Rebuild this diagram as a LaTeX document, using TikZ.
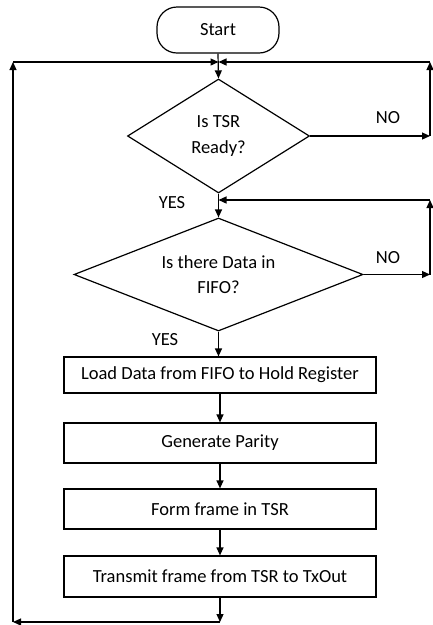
\documentclass[tikz,border=0pt]{standalone}
\usepackage{fontspec}
\setmainfont{Carlito}
\usetikzlibrary{shapes.geometric,arrows.meta}
\begin{document}
\begin{tikzpicture}[x=1pt,y=-1pt,
  every node/.style={font=\fontsize{18.5}{25.5}\selectfont, text=black},
  line/.style={line width=1.2pt, draw=black},
  arr/.style={line, -{Triangle[length=8pt,width=7pt]}},
  startbox/.style={line, rectangle, rounded corners=20pt, minimum width=122pt, minimum height=46pt, inner sep=0pt},
  decision/.style={line, diamond, inner sep=0pt, align=center},
  procbox/.style={line, rectangle, minimum width=312pt, minimum height=40pt, inner sep=0pt},
  lbl/.style={inner sep=0pt}
]
\useasboundingbox (0,0) rectangle (433,625);

\node[startbox] (start) at (218,30) {Start};
\node[decision, aspect=1.6, minimum width=182pt, minimum height=114pt] (d1) at (218.5,136) {Is TSR\\Ready?};
\node[decision, aspect=2.56, minimum width=289pt, minimum height=113pt] (d2) at (218.5,274.5) {Is there Data in\\FIFO?};
\node[procbox, minimum height=36pt] (b1) at (220,375) {Load Data from FIFO to Hold Register};
\node[procbox] (b2) at (220,443) {Generate Parity};
\node[procbox] (b3) at (220,509) {Form frame in TSR};
\node[procbox, minimum height=41pt] (b4) at (220,576.5) {Transmit frame from TSR to TxOut};

\coordinate (j1) at (218.5,62);
\coordinate (j2) at (218.5,200);
\coordinate (tl) at (13,62);
\coordinate (bl) at (13,622);
\coordinate (bc) at (220,622);
\coordinate (tr1) at (430,62);
\coordinate (mr1) at (430,136);
\coordinate (tr2) at (430,200);
\coordinate (mr2) at (430,274.5);

% main flow
\draw[arr] (start.south) -- (d1.north);
\draw[arr] (d1.south) -- (d2.north);
\draw[arr] (d2.south) -- (d2.south |- b1.north);
\draw[arr] (b1.south) -- (b2.north);
\draw[arr] (b2.south) -- (b3.north);
\draw[arr] (b3.south) -- (b4.north);

% NO loop 1
\draw[arr] (d1.east) -- (mr1);
\draw[arr] (mr1) -- (tr1);
\draw[arr] (tr1) -- (j1);

% NO loop 2
\draw[arr] (d2.east) -- (mr2);
\draw[arr] (mr2) -- (tr2);
\draw[arr] (tr2) -- (j2);

% return loop
\draw[arr] (b4.south) -- (bc);
\draw[arr] (bc) -- (bl);
\draw[arr] (bl) -- (tl);
\draw[arr] (tl) -- (j1);

% labels
\node[lbl] (no1) at (388,118) {NO};
\node[lbl] (no2) at (388,258) {NO};
\node[lbl] (yes1) at (172,203) {YES};
\node[lbl] (yes2) at (165,340) {YES};
\end{tikzpicture}
\end{document}
